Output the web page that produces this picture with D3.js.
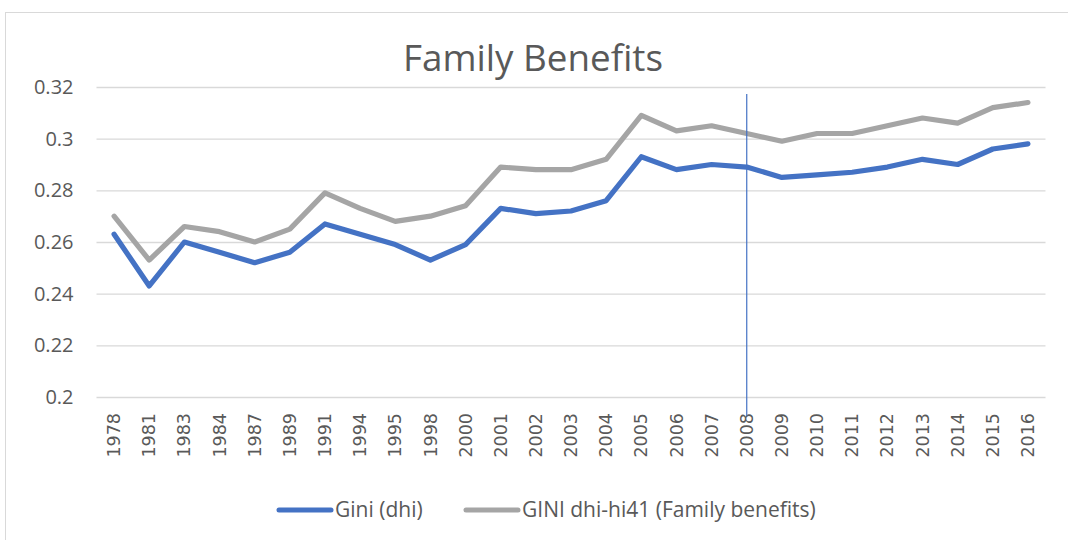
<html>
<head>
    <title>Family Benefits</title>
</head>
<body style="margin: 0; background: #fff;">
    <svg></svg>
</body>
<script src="https://cdn.jsdelivr.net/npm/d3@7"></script>
<script>
const width = 1068;
const height = 540;

const years = ['1978','1981','1983','1984','1987','1989','1991','1994','1995','1998','2000','2001','2002','2003','2004','2005','2006','2007','2008','2009','2010','2011','2012','2013','2014','2015','2016'];
const gini = [0.263,0.243,0.260,0.256,0.252,0.256,0.267,0.263,0.259,0.253,0.259,0.273,0.271,0.272,0.276,0.293,0.288,0.290,0.289,0.285,0.286,0.287,0.289,0.292,0.290,0.296,0.298];
const giniFam = [0.270,0.253,0.266,0.264,0.260,0.265,0.279,0.273,0.268,0.270,0.274,0.289,0.288,0.288,0.292,0.309,0.303,0.305,0.302,0.299,0.302,0.302,0.305,0.308,0.306,0.312,0.314];
const yTicks = [0.2, 0.22, 0.24, 0.26, 0.28, 0.3, 0.32];
const markYear = '2008';

const series = [
    {name: 'Gini (dhi)', values: gini, color: '#4472C4'},
    {name: 'GINI dhi-hi41 (Family benefits)', values: giniFam, color: '#A5A5A5'},
];

const font = '"Open Sans", sans-serif';
const tickFont = '"DejaVu Sans", sans-serif';

const x = d3.scaleBand().domain(years).range([96.5, 1045.5]);
const y = d3.scaleLinear().domain([0.2, 0.32]).range([397, 87]);
const cx = d => x(d) + x.bandwidth() / 2;

const svg = d3.select('svg').attr('width', width).attr('height', height)
    .style('font-family', font);

// chart frame
svg.append('rect')
    .attr('x', 5.5).attr('y', 12.5)
    .attr('width', 1100).attr('height', 600)
    .attr('fill', 'none').attr('stroke', '#D9D9D9');

svg.append('text')
    .attr('x', 533).attr('y', 71)
    .attr('text-anchor', 'middle')
    .attr('font-size', 36.8)
    .attr('fill', '#595959')
    .text('Family Benefits');

// gridlines + y labels
const yAxis = svg.append('g')
    .attr('transform', 'translate(96.5,0)')
    .call(d3.axisLeft(y).tickValues(yTicks).tickSize(-949).tickPadding(23)
        .tickFormat(d => String(+d.toFixed(2))));
yAxis.select('.domain').remove();
yAxis.selectAll('line').attr('stroke', '#D9D9D9').attr('stroke-width', 1.3);
yAxis.selectAll('text').attr('font-size', 20).attr('fill', '#595959').attr('font-family', font);

// x labels
const xAxis = svg.append('g')
    .attr('transform', 'translate(0,397)')
    .call(d3.axisBottom(x).tickSize(0));
xAxis.select('.domain').remove();
xAxis.selectAll('text')
    .attr('font-size', 17.5).attr('fill', '#595959').attr('font-family', tickFont)
    .attr('transform', 'rotate(-90)')
    .attr('text-anchor', 'end')
    .attr('x', -16).attr('y', 0).attr('dy', '0.35em');

// lines
const line = d3.line().x((d, i) => cx(years[i])).y(d => y(d));
svg.append('g').selectAll('path')
    .data(series)
    .join('path')
    .attr('d', d => line(d.values))
    .attr('fill', 'none')
    .attr('stroke', d => d.color)
    .attr('stroke-width', 5.2)
    .attr('stroke-linejoin', 'round')
    .attr('stroke-linecap', 'round');

// marker line at 2008
svg.append('line')
    .attr('x1', cx(markYear)).attr('x2', cx(markYear))
    .attr('y1', 94).attr('y2', 416)
    .attr('stroke', '#4472C4').attr('stroke-width', 1.2);

// legend
const legendX = [279, 466];
const lg = svg.append('g').selectAll('g')
    .data(series)
    .join('g')
    .attr('transform', (d, i) => `translate(${legendX[i]},510)`);
lg.append('line')
    .attr('x1', 0).attr('x2', 52)
    .attr('stroke', d => d.color).attr('stroke-width', 5)
    .attr('stroke-linecap', 'round');
lg.append('text')
    .attr('x', 56).attr('dy', '0.35em')
    .attr('font-size', 21).attr('fill', '#595959')
    .text(d => d.name);
</script>
</html>
